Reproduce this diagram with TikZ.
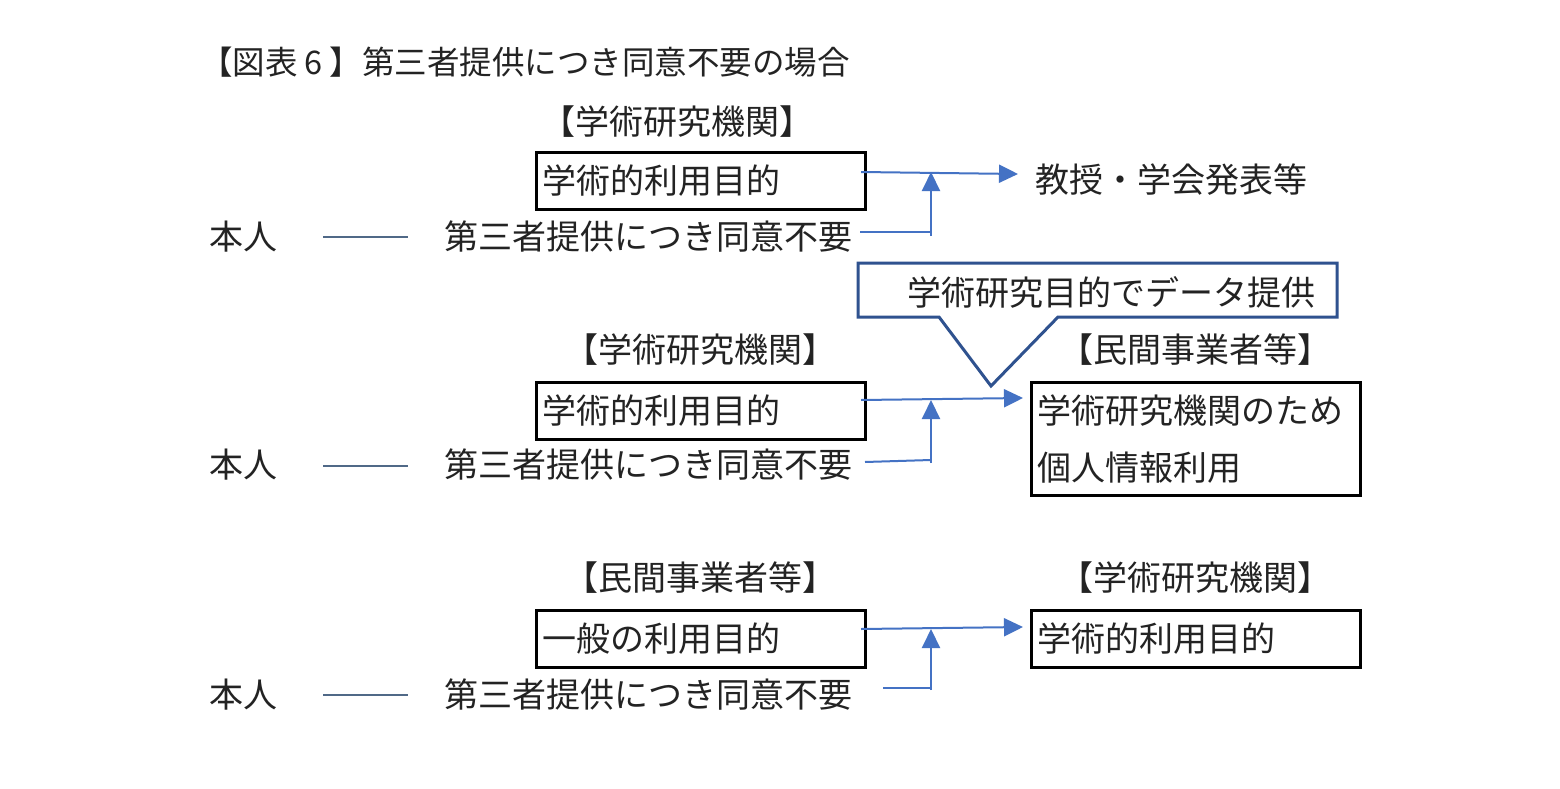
\documentclass[tikz,border=0pt]{standalone}
\usepackage{fontspec}
\setmainfont{Noto Sans CJK JP}
\usetikzlibrary{arrows.meta}
\definecolor{arrowblue}{RGB}{68,114,196}
\definecolor{slateline}{RGB}{80,105,135}
\definecolor{calloutblue}{RGB}{47,82,143}
\definecolor{inkgray}{RGB}{35,35,35}
\begin{document}
\begin{tikzpicture}[x=1pt,y=-1pt,
  txt/.style={font=\fontsize{34}{57}\selectfont, inner sep=0pt, anchor=west, text=inkgray},
  titletxt/.style={font=\fontsize{32.5}{40}\selectfont, inner sep=0pt, anchor=west, text=inkgray},
  lbl/.style={font=\fontsize{34}{40}\selectfont, inner sep=0pt, text=inkgray},
  box/.style={draw=black, line width=3pt, font=\fontsize{34}{57}\selectfont, text=inkgray,
    text width=317pt, inner xsep=6pt, inner ysep=0pt, align=left, anchor=north west},
  conn/.style={draw=arrowblue, line width=2pt},
  arr/.style={conn, -{Triangle[length=19pt,width=18pt]}},
  selfline/.style={draw=slateline, line width=2.5pt},
  calloutline/.style={draw=calloutblue, line width=3pt, line join=miter}]
\useasboundingbox (0,0) rectangle (1560,789);
\fill[white] (0,0) rectangle (1560,789);

% title
\node[titletxt] (title) at (200,62) {【図表\hbox to 32pt{\hss 6\hss}】第三者提供につき同意不要の場合};

% ---------- block 1 ----------
\node[lbl] (org1) at (677,122) {【学術研究機関】};
\node[box, minimum height=57pt] (b1) at (535,151) {学術的利用目的};
\node[txt] (hon1) at (209,237) {本人};
\node[txt] (con1) at (444,237) {第三者提供につき同意不要};
\node[txt] (prof) at (1035,180) {教授・学会発表等};
\coordinate (h1a) at (323,237);
\coordinate (h1b) at (408,237);
\draw[selfline] (h1a) -- (h1b);
\coordinate (a1s) at (861,172);
\coordinate (a1e) at (1018,174);
\draw[arr] (a1s) -- (a1e);
\coordinate (c1s) at (860,232);
\coordinate (c1c) at (931,232);
\coordinate (c1b) at (931,236);
\coordinate (c1t) at (931,172);
\draw[conn] (c1s) -- (c1c);
\draw[arr] (c1b) -- (c1t);

% ---------- callout ----------
\coordinate (cl1) at (858,263);
\coordinate (cl2) at (1337,263);
\coordinate (cl3) at (1337,317);
\coordinate (cl4) at (1058,317);
\coordinate (cltip) at (991,386);
\coordinate (cl5) at (939,317);
\coordinate (cl6) at (858,317);
\draw[calloutline] (cl1) -- (cl2) -- (cl3) -- (cl4) -- (cltip) -- (cl5) -- (cl6) -- cycle;
\node[txt] (calltext) at (907,292) {学術研究目的でデータ提供};

% ---------- block 2 ----------
\node[lbl] (org2) at (700,350) {【学術研究機関】};
\node[lbl] (org3) at (1195,350) {【民間事業者等】};
\node[box, minimum height=57pt] (b2) at (535,381) {学術的利用目的};
\node[box, minimum height=113pt] (b3) at (1030,381) {学術研究機関のため\\個人情報利用};
\node[txt] (hon2) at (209,465) {本人};
\node[txt] (con2) at (444,465) {第三者提供につき同意不要};
\coordinate (h2a) at (323,466);
\coordinate (h2b) at (408,466);
\draw[selfline] (h2a) -- (h2b);
\coordinate (a2s) at (861,400);
\coordinate (a2e) at (1023,398);
\draw[arr] (a2s) -- (a2e);
\coordinate (c2s) at (865,462);
\coordinate (c2c) at (931,460);
\coordinate (c2b) at (931,463);
\coordinate (c2t) at (931,400);
\draw[conn] (c2s) -- (c2c);
\draw[arr] (c2b) -- (c2t);

% ---------- block 3 ----------
\node[lbl] (org4) at (700,578) {【民間事業者等】};
\node[lbl] (org5) at (1195,578) {【学術研究機関】};
\node[box, minimum height=57pt] (b4) at (535,609) {一般の利用目的};
\node[box, minimum height=57pt] (b5) at (1030,609) {学術的利用目的};
\node[txt] (hon3) at (209,695) {本人};
\node[txt] (con3) at (444,695) {第三者提供につき同意不要};
\coordinate (h3a) at (323,695);
\coordinate (h3b) at (408,695);
\draw[selfline] (h3a) -- (h3b);
\coordinate (a3s) at (861,629);
\coordinate (a3e) at (1023,627);
\draw[arr] (a3s) -- (a3e);
\coordinate (c3s) at (883,688);
\coordinate (c3c) at (931,688);
\coordinate (c3b) at (931,690);
\coordinate (c3t) at (931,629);
\draw[conn] (c3s) -- (c3c);
\draw[arr] (c3b) -- (c3t);
\end{tikzpicture}
\end{document}
